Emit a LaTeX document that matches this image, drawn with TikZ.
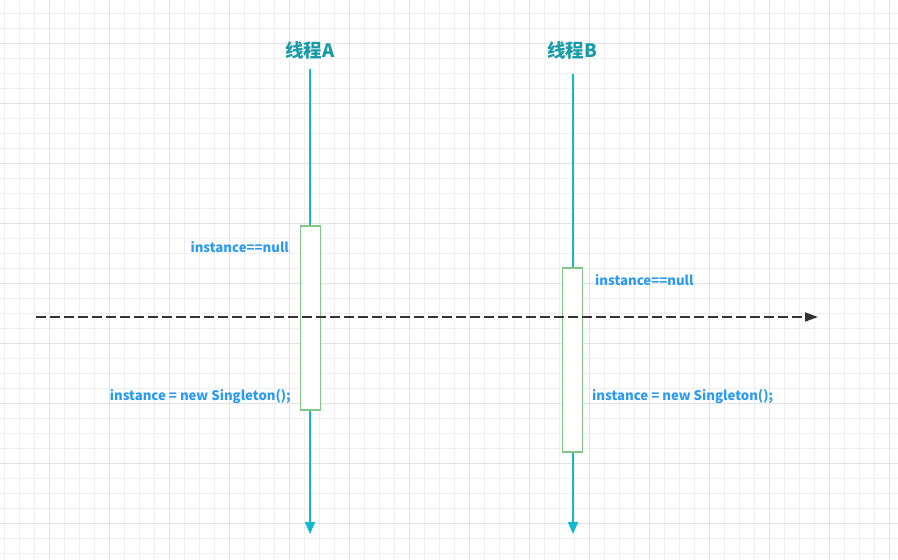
\documentclass[tikz,border=0pt]{standalone}
\usepackage{fontspec}
\setmainfont{Noto Sans CJK SC}
\usepackage{tikz}
\usetikzlibrary{positioning,calc,arrows.meta}
\definecolor{gridminor}{HTML}{EFEFEF}
\definecolor{gridmajor}{HTML}{E2E2E2}
\definecolor{lifecyan}{HTML}{12B8D0}
\definecolor{titleteal}{HTML}{1A9CA8}
\definecolor{boxgreen}{HTML}{82C785}
\definecolor{textblue}{HTML}{2C9AF0}
\definecolor{dashgray}{HTML}{333333}

\begin{document}
\begin{tikzpicture}[x=1pt, y=-1pt,
    title/.style={font=\bfseries\fontsize{18.5}{18.5}\selectfont, text=titleteal, inner sep=0pt},
    lifeline/.style={draw=lifecyan, line width=1.8pt, -{Triangle[length=12pt,width=10pt]}},
    activebox/.style={draw=boxgreen, line width=1.9pt, fill=white, minimum width=20pt, inner sep=0pt},
    code/.style={font=\bfseries\fontsize{13.2}{13.2}\selectfont, text=textblue, inner sep=0pt},
    timeline/.style={draw=dashgray, line width=1.8pt, dash pattern=on 10pt off 4pt, -{Triangle[length=13pt,width=9pt]}}]
    \useasboundingbox (0,0) rectangle (898,560);
    % Grid
    \foreach \gx in {4,19,...,898} \draw[gridminor, line width=0.8pt] (\gx,0) -- (\gx,560);
    \foreach \gy in {13,28,...,560} \draw[gridminor, line width=0.8pt] (0,\gy) -- (898,\gy);
    \foreach \gx in {49,109,...,898} \draw[gridmajor, line width=0.8pt] (\gx,0) -- (\gx,560);
    \foreach \gy in {43,103,...,560} \draw[gridmajor, line width=0.8pt] (0,\gy) -- (898,\gy);

    % Thread A
    \node[title] (threadA) at (310,50) {线程A};
    \coordinate (topA) at (310,69);
    \coordinate (endA) at (310,534);
    \draw[lifeline] (topA) -- (endA);
    \node[activebox, minimum height=184pt] (boxA) at (310.5,318) {};
    \node[code, anchor=east] (checkA) at (289,247) {instance==null};
    \node[code, anchor=east] (newA) at (291,397) {instance = new Singleton();};

    % Thread B
    \node[title] (threadB) at (572,50) {线程B};
    \coordinate (topB) at (573,74);
    \coordinate (endB) at (573,534);
    \draw[lifeline] (topB) -- (endB);
    \node[activebox, minimum height=184pt] (boxB) at (572.5,360) {};
    \node[code, anchor=west] (checkB) at (595,280) {instance==null};
    \node[code, anchor=west] (newB) at (592,397) {instance = new Singleton();};

    % Time switch
    \coordinate (switchL) at (36,317);
    \coordinate (switchR) at (818,317);
    \draw[timeline] (switchL) -- (switchR);
\end{tikzpicture}
\end{document}
